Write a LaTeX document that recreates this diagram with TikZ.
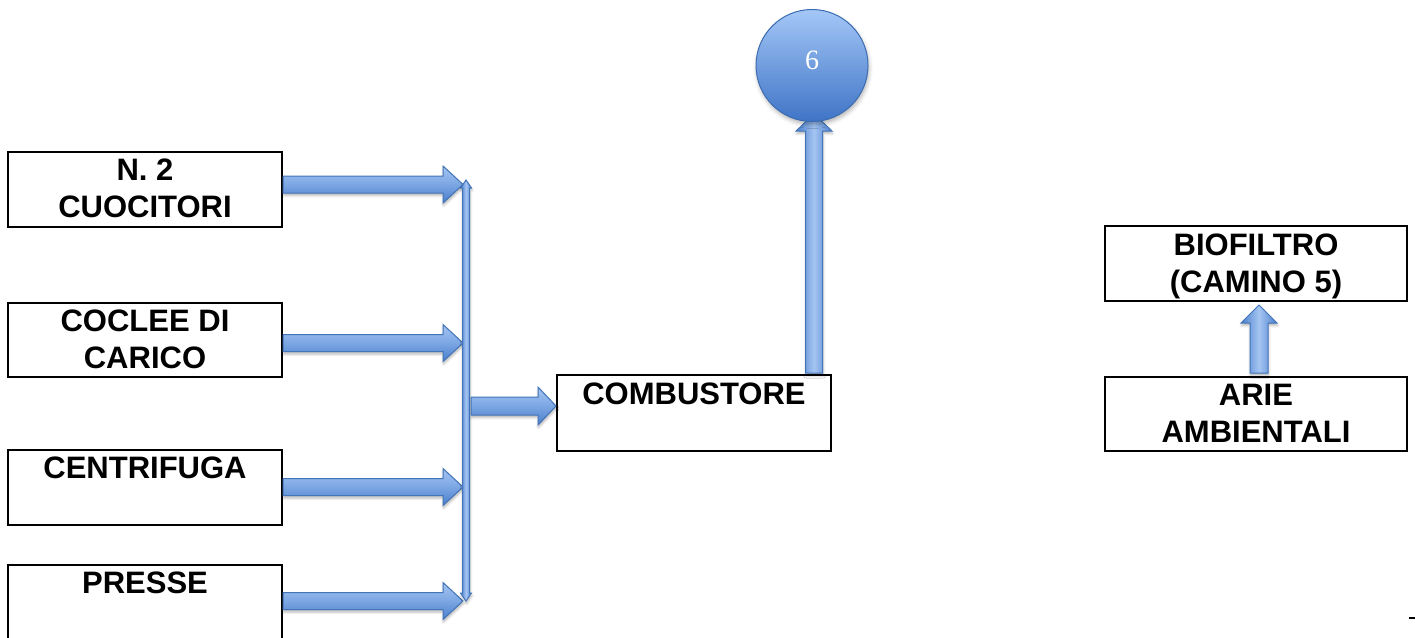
\documentclass[tikz,border=0pt]{standalone}
\usepackage{fontspec}
\setmainfont{Liberation Sans}
\newfontfamily\numfont{Liberation Serif}
\usetikzlibrary{calc,shadows.blur}

\definecolor{arrowlight}{HTML}{A4C5F2}
\definecolor{arrowmid}{HTML}{7CA6E3}
\definecolor{arrowdark}{HTML}{4A7ECB}
\definecolor{arrowedge}{HTML}{4274B8}
\definecolor{balltop}{HTML}{A4C7F7}
\definecolor{ballbottom}{HTML}{3F74C6}
\definecolor{balledge}{HTML}{3C6CB2}

% horizontal block arrow: #1 start, #2 tip, #3 shaft half-width, #4 head half-width, #5 head length
\newcommand\hblock[5]{%
  \path[harrow] let \p1=(#1), \p2=(#2) in
    ({\x1},{\y1+#3}) -- ({\x2-#5},{\y1+#3}) -- ({\x2-#5},{\y1+#4}) -- ({\x2},{\y1})
    -- ({\x2-#5},{\y1-#4}) -- ({\x2-#5},{\y1-#3}) -- ({\x1},{\y1-#3}) -- cycle;}
% vertical block arrow pointing up: #1 start (bottom), #2 tip (top)
\newcommand\vblock[5]{%
  \path[varrow] let \p1=(#1), \p2=(#2) in
    ({\x1-#3},{\y1}) -- ({\x1-#3},{\y2-#5}) -- ({\x1-#4},{\y2-#5}) -- ({\x1},{\y2})
    -- ({\x1+#4},{\y2-#5}) -- ({\x1+#3},{\y2-#5}) -- ({\x1+#3},{\y1}) -- cycle;}
% vertical double-headed block arrow: #1 bottom tip, #2 top tip
\newcommand\dblock[5]{%
  \path[varrow] let \p1=(#1), \p2=(#2) in
    ({\x1},{\y1}) -- ({\x1-#4},{\y1+#5}) -- ({\x1-#3},{\y1+#5}) -- ({\x1-#3},{\y2-#5})
    -- ({\x1-#4},{\y2-#5}) -- ({\x1},{\y2}) -- ({\x1+#4},{\y2-#5}) -- ({\x1+#3},{\y2-#5})
    -- ({\x1+#3},{\y1+#5}) -- ({\x1+#4},{\y1+#5}) -- cycle;}

\begin{document}
\begin{tikzpicture}[x=1pt,y=-1pt,
  box/.style={draw=black, line width=2pt, inner sep=0pt, fill=white},
  boxlabel/.style={anchor=north, inner sep=0pt, align=center,
    font=\fontsize{31pt}{37pt}\selectfont\bfseries},
  arrowshadow/.style={blur shadow={shadow xshift=0.5pt, shadow yshift=-2.5pt,
    shadow blur radius=2.5pt, shadow opacity=30}},
  harrow/.style={draw=arrowedge, line width=1pt, line join=miter,
    top color=arrowlight, bottom color=arrowdark, middle color=arrowmid, arrowshadow},
  varrow/.style={draw=arrowedge, line width=1pt, line join=miter,
    left color=arrowdark, right color=arrowdark, middle color=arrowlight, arrowshadow},
  ball/.style={circle, draw=balledge, line width=1pt, top color=balltop,
    bottom color=ballbottom, minimum size=112pt, inner sep=0pt, text=white,
    blur shadow={shadow xshift=1pt, shadow yshift=-3pt, shadow blur radius=4pt, shadow opacity=30}},
]
\useasboundingbox (0,0) rectangle (1415,637);
\clip (0,0) rectangle (1415,637);

% source boxes on the left
\node[box, minimum width=274pt, minimum height=75pt] (cuoc) at (145,189.5) {};
\node[box, minimum width=274pt, minimum height=74pt] (cocl) at (145,340) {};
\node[box, minimum width=274pt, minimum height=75pt] (cent) at (145,487.5) {};
\node[box, minimum width=274pt, minimum height=75pt] (pres) at (145,602.5) {};
\node[boxlabel] at ($(cuoc.north)+(0,8)$) {N. 2\\CUOCITORI};
\node[boxlabel] at ($(cocl.north)+(0,8)$) {COCLEE DI\\CARICO};
\node[boxlabel] at ($(cent.north)+(0,8)$) {CENTRIFUGA};
\node[boxlabel] at ($(pres.north)+(0,8)$) {PRESSE};

% combustor, biofilter and ambient air
\node[box, minimum width=274pt, minimum height=76pt] (comb) at (694,413) {};
\node[boxlabel] at ($(comb.north)+(0,9)$) {COMBUSTORE};
\node[box, minimum width=302pt, minimum height=75pt] (bio) at (1256,263.5) {};
\node[boxlabel] at ($(bio.north)+(0,9)$) {BIOFILTRO\\(CAMINO 5)};
\node[box, minimum width=302pt, minimum height=74pt] (arie) at (1256,414) {};
\node[boxlabel] at ($(arie.north)+(0,8)$) {ARIE\\AMBIENTALI};

% collector bus
\coordinate (busbot) at (466,601);
\coordinate (bustop) at (466,180);
\coordinate (t1) at (463,184.5);
\coordinate (t2) at (463,343);
\coordinate (t3) at (463,487);
\coordinate (t4) at (463,601);
\coordinate (bout) at (471,406);

\hblock{cuoc.east |- t1}{t1}{8.5pt}{18.5pt}{20pt}
\hblock{cocl.east |- t2}{t2}{8.5pt}{18.5pt}{20pt}
\hblock{cent.east |- t3}{t3}{8.5pt}{18.5pt}{20pt}
\hblock{pres.east |- t4}{t4}{8.5pt}{18.5pt}{20pt}
\dblock{busbot}{bustop}{3.5pt}{5.5pt}{8pt}
\hblock{bout}{comb.west |- bout}{9pt}{19pt}{18pt}

% stack 6 above the combustor
\coordinate (ballin) at (814,114);
\coordinate (combtop) at (814,373);
\vblock{combtop}{ballin}{8.5pt}{18pt}{17pt}
\node[ball] (six) at (812,65.5) {};
\node[text=white, inner sep=0pt] at ($(six.center)+(0,-5.5)$)
  {\numfont\fontsize{28pt}{32pt}\selectfont 6};

% ambient air to biofilter
\coordinate (ariein) at (1259,373);
\coordinate (bioin) at (1259,305);
\vblock{ariein}{bioin}{9pt}{18pt}{18pt}

\draw[line width=2pt] (1409,618) -- (1415,618);
\end{tikzpicture}
\end{document}
